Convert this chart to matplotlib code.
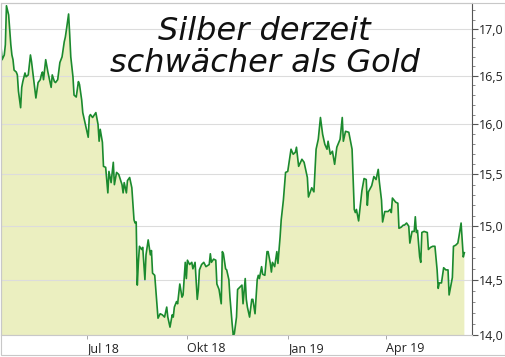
import numpy as np
import pandas as pd
import matplotlib
matplotlib.use("Agg")
import matplotlib.pyplot as plt
from matplotlib.ticker import FixedLocator, FuncFormatter, NullFormatter
from matplotlib.patches import Rectangle

# Silver price (USD/oz); days counted from start date
start = pd.Timestamp("2018-04-12")
days = [0, 2, 4, 5, 6, 8, 10, 11, 12, 13, 15, 16, 17, 19, 20, 21, 23, 24, 26, 28,
        29, 31, 33, 35, 37, 38, 39, 40, 42, 44, 47, 48, 50, 51, 53, 55, 57, 59, 60, 61,
        63, 64, 65, 67, 68, 70, 72, 73, 75, 76,
        78, 81, 82, 83, 85, 88, 90, 91, 92, 94, 95, 97, 99, 100, 102, 104, 105, 107, 109, 112,
        113, 114, 116, 117, 119, 121, 123, 124, 125, 126, 127, 128, 130, 131, 133, 134, 136, 138, 139, 140,
        142,
        144, 145, 147, 149, 151, 153, 154, 156, 158, 159, 160, 162, 163, 165, 167, 168, 170, 171, 172, 174,
        176, 177, 179, 181, 182, 183, 185, 187, 189, 192, 193, 194, 196, 198, 199, 201, 203, 204, 205, 207,
        208, 210, 211, 213, 214, 215, 217, 218, 220, 222, 223, 225, 226, 227, 229, 231, 232, 234, 236, 237,
        238, 240, 241, 243, 245, 246, 248, 249, 250, 252, 254, 255, 257,
        258, 260, 262, 264, 267, 269, 271, 272, 274, 277, 279, 282, 283, 286, 288, 290, 292, 294, 296, 298,
        300, 301, 303, 305, 307, 309, 312, 314, 315, 317, 320, 323, 325, 326, 327, 329, 332, 334, 336, 337,
        338, 341, 343, 345, 347, 348, 350, 351, 353,
        356, 358, 359, 360, 363, 365, 366, 368, 370, 371, 373, 375, 376, 378, 380, 381, 382, 383, 385, 386,
        387, 389, 392, 393, 395, 397, 399, 401, 402, 403, 405, 407, 409, 411, 412, 414, 415, 416, 418, 420,
        421, 423, 425, 426]
price = [16.95, 16.67, 16.72, 16.83, 17.25, 17.15, 16.83, 16.72, 16.67, 16.56, 16.54, 16.51, 16.34, 16.17, 16.38, 16.44, 16.53, 16.49, 16.51, 16.72,
         16.65, 16.46, 16.27, 16.43, 16.46, 16.51, 16.54, 16.46, 16.67, 16.54, 16.38, 16.51, 16.44, 16.43, 16.46, 16.64, 16.70, 16.86, 16.91, 16.99,
         17.16, 16.94, 16.70, 16.49, 16.30, 16.28, 16.44, 16.41, 16.25, 16.12,
         16.02, 15.87, 16.08, 16.10, 16.07, 16.12, 16.00, 15.83, 15.95, 15.82, 15.58, 15.57, 15.32, 15.53, 15.42, 15.62, 15.40, 15.52, 15.50, 15.40,
         15.32, 15.42, 15.32, 15.44, 15.47, 15.37, 15.06, 15.03, 15.04, 14.45, 14.66, 14.81, 14.78, 14.80, 14.50, 14.73, 14.87, 14.73, 14.77, 14.56,
         14.54,
         14.28, 14.15, 14.19, 14.18, 14.16, 14.25, 14.16, 14.07, 14.18, 14.16, 14.25, 14.30, 14.28, 14.46, 14.34, 14.36, 14.66, 14.51, 14.68, 14.64,
         14.66, 14.60, 14.66, 14.32, 14.41, 14.59, 14.64, 14.66, 14.62, 14.64, 14.74, 14.66, 14.69, 14.68, 14.46, 14.41, 14.28, 14.76, 14.74, 14.60,
         14.59, 14.50, 14.34, 14.10, 14.00, 14.01, 14.16, 14.41, 14.43, 14.45, 14.28, 14.51, 14.32, 14.25, 14.16, 14.32, 14.32, 14.19, 14.50, 14.54,
         14.51, 14.62, 14.55, 14.54, 14.76, 14.76, 14.65, 14.57, 14.66, 14.62, 14.76, 14.65, 14.90,
         15.06, 15.25, 15.52, 15.53, 15.75, 15.70, 15.72, 15.77, 15.58, 15.65, 15.62, 15.47, 15.28, 15.37, 15.33, 15.75, 15.85, 16.07, 15.90, 15.80,
         15.75, 15.83, 15.70, 15.73, 15.60, 15.77, 15.85, 16.07, 15.83, 15.93, 15.92, 15.75, 15.16, 15.13, 15.16, 15.05, 15.34, 15.46, 15.45, 15.20,
         15.33, 15.39, 15.48, 15.45, 15.55, 15.43, 15.25, 15.04, 15.14,
         15.14, 15.16, 15.13, 15.27, 15.23, 15.22, 14.98, 14.99, 15.01, 15.01, 15.03, 15.00, 14.84, 14.95, 14.95, 15.09, 14.94, 14.96, 14.71, 14.66,
         14.94, 14.95, 14.94, 14.78, 14.80, 14.81, 14.81, 14.59, 14.42, 14.47, 14.47, 14.61, 14.59, 14.59, 14.36, 14.47, 14.52, 14.81, 14.82, 14.84,
         14.90, 15.03, 14.71, 14.75]

y_ticks = [14.0, 14.5, 15.0, 15.5, 16.0, 16.5, 17.0]
x_ticks = ["2018-07-01", "2018-10-01", "2019-01-01", "2019-04-01"]
x_labels = ["Jul 18", "Okt 18", "Jan 19", "Apr 19"]
title = "Silber derzeit\nschwächer als Gold"

dates = start + pd.to_timedelta(days, unit="D")

W, H = 506, 357
fig = plt.figure(figsize=(W / 100, H / 100), dpi=100)
ax = fig.add_axes([1 / W, 22 / H, 471 / W, 332 / H])

fill_col = "#ebefc0"
line_col = "#1b8a2e"
ax.fill_between(dates, price, 13.0, color=fill_col, lw=0, zorder=1)
ax.plot(dates, price, color=line_col, lw=1.2, zorder=3)

ax.set_yscale("log")
ax.set_ylim(14.0, 17.28)
ax.set_xlim(pd.Timestamp("2018-04-13"), pd.Timestamp("2019-06-19"))

ax.yaxis.set_major_locator(FixedLocator(y_ticks))
ax.yaxis.set_minor_locator(FixedLocator(np.arange(14.0, 17.25, 0.1)))
ax.yaxis.set_major_formatter(FuncFormatter(lambda v, p: f"{v:.1f}".replace(".", ",")))
ax.yaxis.set_minor_formatter(NullFormatter())
ax.yaxis.tick_right()
ax.tick_params(axis="y", which="major", length=4, width=0.8, color="#555555",
               labelsize=9, labelcolor="#222222", pad=1)
ax.tick_params(axis="y", which="minor", length=2, width=0.6, color="#777777")

ax.set_xticks(pd.to_datetime(x_ticks))
ax.set_xticklabels(x_labels, ha="left")
ax.tick_params(axis="x", length=3, width=0.6, color="#999999",
               labelsize=9, labelcolor="#222222", pad=2)
for lab in ax.get_xticklabels() + ax.get_yticklabels():
    lab.set_fontfamily("Open Sans")

ax.grid(axis="y", which="major", color="#dcdcdc", lw=0.8, zorder=2)
for s in ["left", "top", "bottom"]:
    ax.spines[s].set_color("#c8c8c8")
    ax.spines[s].set_linewidth(0.8)
ax.spines["right"].set_color("#555555")
ax.spines["right"].set_linewidth(0.8)

ax.text(0.56, 0.865, title, transform=ax.transAxes, ha="center", va="center",
        fontsize=23, fontstyle="oblique", family="DejaVu Sans",
        color="#111111", linespacing=1.05, zorder=4)

# outer frame
fig.patches.append(Rectangle((1 / W, 2 / H), 504 / W, 352 / H, transform=fig.transFigure,
                             fill=False, edgecolor="#c8c8c8", lw=0.8))

fig.savefig("out.png", dpi=100)
